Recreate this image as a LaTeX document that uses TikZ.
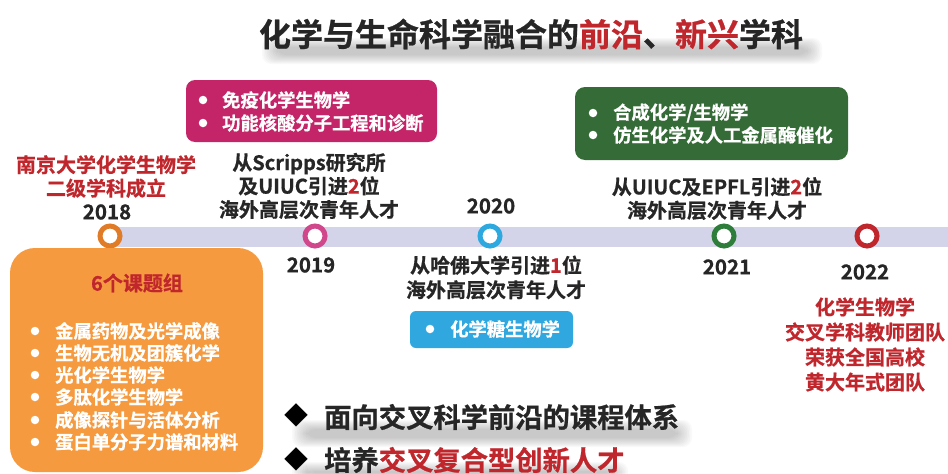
\documentclass[tikz,border=0pt]{standalone}
\usepackage{fontspec}
\setmainfont{Noto Sans CJK SC}[BoldFont={Noto Sans CJK SC Bold},BoldFeatures={FakeBold=0.8}]
\definecolor{tred}{HTML}{C0272D}
\definecolor{tdark}{HTML}{262626}
\definecolor{barc}{HTML}{D3D3EA}
\definecolor{corange}{HTML}{E07B28}
\definecolor{cpink}{HTML}{D0478C}
\definecolor{cblue}{HTML}{2EA9DF}
\definecolor{cgreen}{HTML}{2E7D3A}
\definecolor{cred}{HTML}{C0272D}
\definecolor{boxpink}{HTML}{C42468}
\definecolor{boxgreen}{HTML}{356B36}
\definecolor{boxblue}{HTML}{30A8DF}
\definecolor{boxorange}{HTML}{F59A3F}
\tikzset{
  ring/.style={circle,minimum size=20pt,line width=5pt,fill=white,inner sep=0pt},
  dot/.style={circle,fill=white,minimum size=8.5pt,inner sep=0pt},
  txt/.style={inner sep=0pt,font=\bfseries\fontsize{20}{23.5}\selectfont,text=tdark,align=center},
  item/.style={inner sep=0pt,anchor=west,font=\bfseries\fontsize{18.3}{20}\selectfont,text=white},
  year/.style={inner sep=0pt,font=\bfseries\fontsize{20.5}{24}\selectfont,text=tdark},
  big/.style={inner sep=0pt,anchor=west,font=\bfseries\fontsize{27.3}{30}\selectfont,text=tdark},
  diam/.style={inner sep=0pt,font=\fontsize{24}{26}\selectfont,text=black}
}
% soft shadow band: #1 = x0, #2 = y0, #3 = x1, #4 = y1
\newcommand{\softband}[4]{%
  \foreach \k in {0,...,9}{%
    \fill[black,opacity=0.025,rounded corners=9pt]
      (#1+\k*1.6,#2+\k*1) rectangle (#3-\k*1.6,#4-\k*1);
  }%
}
\begin{document}
\begin{tikzpicture}[x=1pt,y=-1pt]
\useasboundingbox (0,0) rectangle (948,474);
% shadows
\softband{262}{38}{822}{64}
\softband{292}{420}{692}{447}
\softband{292}{462}{628}{482}
\node[inner sep=0pt,font=\bfseries\fontsize{32}{34}\selectfont,text=tdark] (title) at (531,34)
  {化学与生命科学融合的\textcolor{tred}{前沿}、\textcolor{tred}{新兴}学科};

% timeline bar
\fill[barc] (110,227) rectangle (948,247);
\node[ring,draw=corange] (r2018) at (110,236) {};
\node[ring,draw=cpink] (r2019) at (315,236) {};
\node[ring,draw=cblue] (r2020) at (490,236) {};
\node[ring,draw=cgreen] (r2021) at (724,236) {};
\node[ring,draw=cred] (r2022) at (867,236) {};

% pink box
\fill[boxpink,rounded corners=9pt] (186,80) rectangle (437,142);
\node[dot] (pd1) at (203,100) {};
\node[dot] (pd2) at (203,123) {};
\node[item] (pi1) at (222,100) {免疫化学生物学};
\node[item] (pi2) at (222,123) {功能核酸分子工程和诊断};

% green box
\fill[boxgreen,rounded corners=10pt] (575,87) rectangle (848,160);
\node[dot] (gd1) at (593,113) {};
\node[dot] (gd2) at (593,135) {};
\node[item] (gi1) at (613,113) {合成化学/生物学};
\node[item] (gi2) at (613,135) {仿生化学及人工金属酶催化};

% texts above bar
\node[txt,text=tred] (nju) at (106,176.5) {南京大学化学生物学\\二级学科成立};
\node[year] (y2018) at (107,212) {2018};
\node[txt] (scripps) at (309,186) {从Scripps研究所\\及UIUC引进\textcolor{tred}{2}位\\海外高层次青年人才};
\node[year] (y2020) at (491,206) {2020};
\node[txt] (epfl) at (717,198.5) {从UIUC及EPFL引进\textcolor{tred}{2}位\\海外高层次青年人才};

% texts below bar
\node[year] (y2019) at (311,265) {2019};
\node[txt,font=\bfseries\fontsize{20}{24.5}\selectfont] (harvard) at (496,277.5) {从哈佛大学引进\textcolor{tred}{1}位\\海外高层次青年人才};
\node[year] (y2021) at (727,267) {2021};
\node[year] (y2022) at (865,272) {2022};
\node[txt,text=tred,font=\bfseries\fontsize{20}{25}\selectfont] (team) at (865,344.5) {化学生物学\\交叉学科教师团队\\荣获全国高校\\黄大年式团队};

% blue box
\fill[boxblue,rounded corners=6pt] (410,311) rectangle (573,348);
\node[dot] (bd1) at (430,329) {};
\node[item] (bi1) at (450,329) {化学糖生物学};

% orange box
\fill[boxorange,rounded corners=25pt] (10,248) rectangle (263,472);
\node[inner sep=0pt,font=\bfseries\fontsize{20}{24}\selectfont,text=tred] (otitle) at (137,283) {6个课题组};
\foreach \t/\yy [count=\i] in {金属药物及光学成像/331,生物无机及团簇化学/353,光化学生物学/375,多肽化学生物学/397,成像探针与活体分析/420,蛋白单分子力谱和材料/442}{
  \node[dot] (od\i) at (35,\yy) {};
  \node[item] (oi\i) at (55,\yy) {\t};
}

% bottom lines
\node[diam] (dm1) at (296,415) {◆};
\node[big] (b1) at (324,417) {面向交叉科学前沿的课程体系};
\node[diam] (dm2) at (296,459) {◆};
\node[big] (b2) at (324,460) {培养\textcolor{tred}{交叉复合型创新人才}};
\end{tikzpicture}
\end{document}
